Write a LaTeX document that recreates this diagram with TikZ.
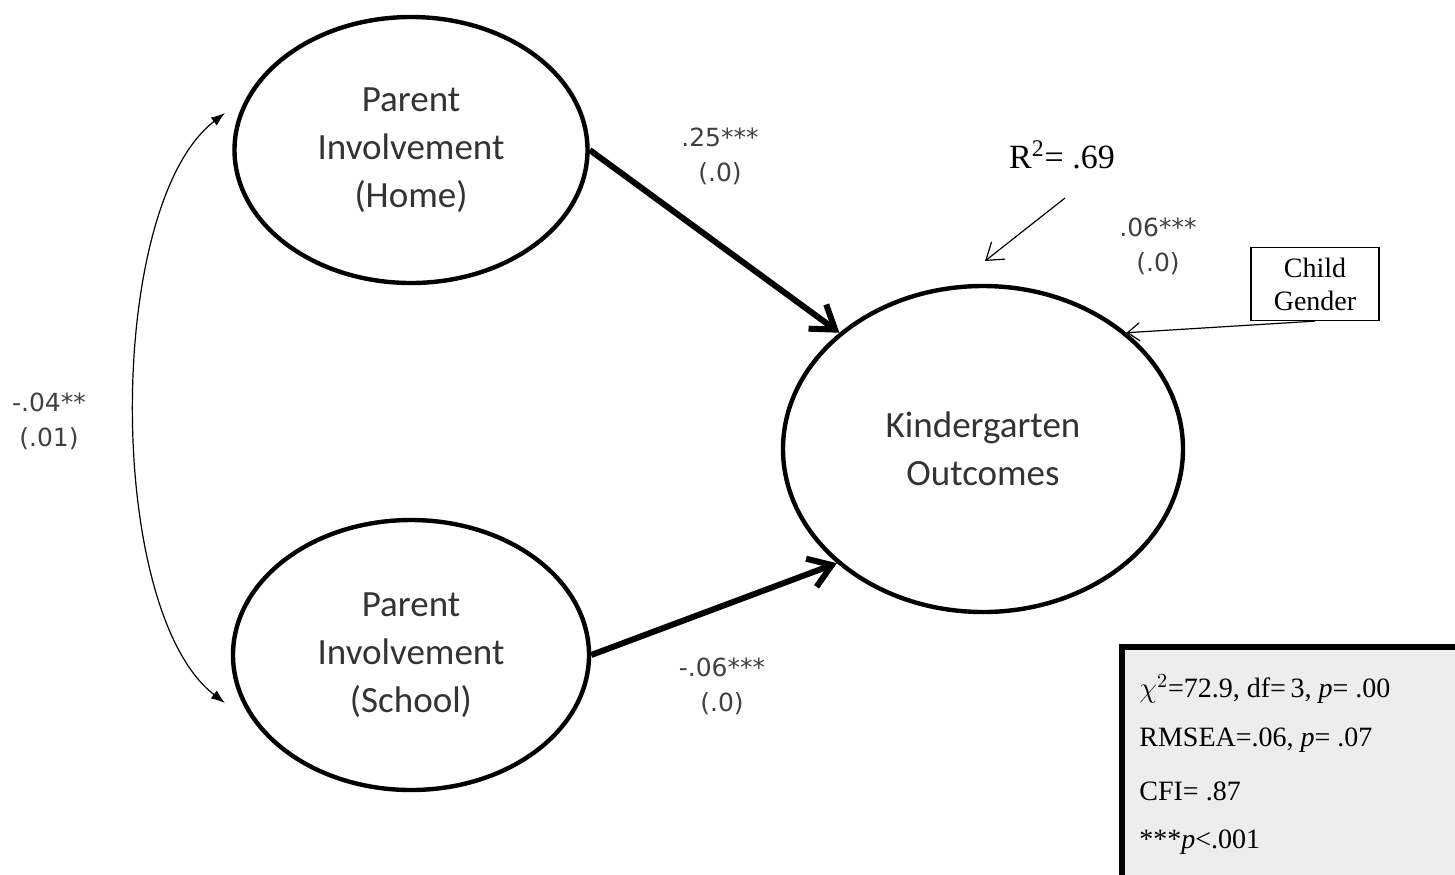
\documentclass[tikz,border=0pt]{standalone}
\usepackage{fontspec}
\setmainfont{Liberation Serif}
\newfontfamily\calibfont{Carlito}
\newfontfamily\estfont{DejaVu Sans}
\usetikzlibrary{shapes, arrows.meta}

\begin{document}
\begin{tikzpicture}[x=0.5pt,y=-0.5pt,
    latent/.style={ellipse,draw,line width=2.2pt,align=center,inner sep=0pt,text=black!80,font=\calibfont\fontsize{18.5}{24}\selectfont},
    est/.style={align=center,text=black!75,font=\estfont\fontsize{12.5}{17.5}\selectfont},
    fitline/.style={anchor=west,inner sep=0pt,font=\fontsize{14}{16}\selectfont},
    regpath/.style={-{Straight Barb[length=11pt,width=15pt]},line width=3pt}]
        \useasboundingbox (0,0) rectangle (1455,874);
        \node [latent,minimum width=176.5pt,minimum height=133pt] (Home) at (411,150) {Parent\\Involvement\\(Home)};
        \node [latent,minimum width=178pt,minimum height=135pt] (School) at (411,655) {Parent\\Involvement\\(School)};
        \node [latent,minimum width=200pt,minimum height=163pt] (KO) at (983,449) {Kindergarten\\Outcomes};
        \node [draw,line width=.6pt,align=center,minimum width=64pt,minimum height=36.5pt,inner sep=1pt,font=\fontsize{14}{16.5}\selectfont] (CG) at (1315,284) {Child\\Gender};
        \node [font=\fontsize{17}{20}\selectfont] (R2) at (1062,155) {R\textsuperscript{2}= .69};
        \node [est] (bHome) at (720,156) {.25***\\(.0)};
        \node [est] (bSchool) at (722,686) {-.06***\\(.0)};
        \node [est] (bGender) at (1158,246) {.06***\\(.0)};
        \node [est] (cov) at (49,421) {-.04**\\(.01)};
        \coordinate (covA) at (225,113);
        \coordinate (covB) at (225,703);
        \coordinate (r2tail) at (1065,198);
        \coordinate (r2head) at (985,261);
        \draw[regpath] (Home.east) -- (KO.141);
        \draw[regpath] (School.east) -- (KO.218);
        \draw[line width=.6pt,-{Straight Barb[length=8pt,width=11pt]}] (r2tail) -- (r2head);
        \draw[line width=.6pt,-{Straight Barb[length=6pt,width=9pt]}] (CG.south) -- (KO.39);
        \draw[line width=.6pt,{Latex[length=7pt,width=5pt]}-{Latex[length=7pt,width=5pt]}] (covA) .. controls (105,205) and (105,611) .. (covB);
        % fit indices
        \draw[line width=3pt,fill=black!7] (1122,647) rectangle (1475,895);
        \node [fitline] (fit1) at (1139,689) {$\chi^2$=72.9, df=\,3, \textit{p}= .00};
        \node [fitline] (fit2) at (1139,740) {RMSEA=.06, \textit{p}= .07};
        \node [fitline] (fit3) at (1139,791) {CFI= .87};
        \node [fitline] (fit4) at (1139,842) {***\textit{p}<.001};
    \end{tikzpicture}
\end{document}
